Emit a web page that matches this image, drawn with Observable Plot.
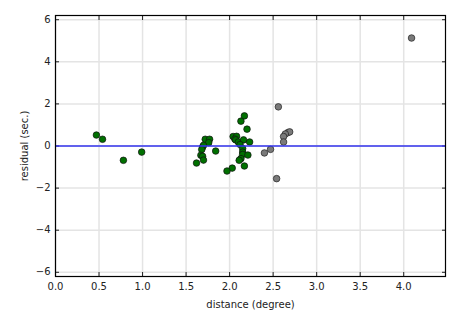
<!DOCTYPE html>
<html>
<head>
<meta charset="utf-8">
<script src="https://cdn.jsdelivr.net/npm/d3@7"></script>
<script src="https://cdn.jsdelivr.net/npm/@observablehq/plot@0.6"></script>
<style>
  html, body { margin: 0; padding: 0; background: #fff; }
  #chart svg { display: block; }
</style>
</head>
<body>
<div id="chart"></div>
<script>
// Residuals vs distance
const greenX = [0.47, 0.54, 0.78, 0.99, 1.72, 1.77, 1.76, 1.69, 1.70, 1.68, 1.67, 1.69, 1.70, 1.62, 1.84,
                2.17, 2.13, 2.20, 2.04, 2.08, 2.06, 2.07, 2.10, 2.16, 2.23, 2.12, 2.15, 2.15, 2.15, 2.13, 2.11, 2.21, 2.03, 1.97, 2.17];
const greenY = [0.52, 0.32, -0.68, -0.29, 0.32, 0.32, 0.16, -0.05, 0.03, -0.17, -0.44, -0.49, -0.67, -0.81, -0.24,
                1.43, 1.18, 0.80, 0.45, 0.46, 0.33, 0.29, 0.19, 0.29, 0.19, 0.07, -0.12, -0.29, -0.40, -0.60, -0.68, -0.43, -1.05, -1.19, -0.95];
const grayX = [2.56, 2.67, 2.69, 2.64, 2.62, 2.62, 2.47, 2.40, 2.54, 4.09];
const grayY = [1.86, 0.64, 0.67, 0.57, 0.45, 0.19, -0.16, -0.33, -1.55, 5.13];
const xTicks = [0, 0.5, 1, 1.5, 2, 2.5, 3, 3.5, 4];
const yTicks = [-6, -4, -2, 0, 2, 4, 6];
const xDomain = [0, 4.48];
const yDomain = [-6.2, 6.2];

const green = greenX.map((x, i) => ({x, y: greenY[i]}));
const gray = grayX.map((x, i) => ({x, y: grayY[i]}));

const chart = Plot.plot({
  width: 465,
  height: 315,
  marginLeft: 55,
  marginRight: 20,
  marginTop: 15,
  marginBottom: 39,
  style: {fontFamily: "DejaVu Sans", fontSize: "10px", color: "#222", background: "#fff"},
  x: {domain: xDomain},
  y: {domain: yDomain},
  marks: [
    Plot.gridX(xTicks, {stroke: "#e4e4e4", strokeOpacity: 1, strokeWidth: 1.5}),
    Plot.gridY(yTicks, {stroke: "#e4e4e4", strokeOpacity: 1, strokeWidth: 1.5}),
    Plot.axisX(xTicks, {anchor: "bottom", tickSize: -4, tickPadding: 10, tickFormat: d3.format(".1f"),
      label: "distance (degree)", labelAnchor: "center", labelArrow: "none", labelOffset: 31}),
    Plot.axisX(xTicks, {anchor: "top", tickSize: -4, text: null, label: null}),
    Plot.axisY(yTicks, {anchor: "left", tickSize: -4, tickPadding: 9,
      label: "residual (sec.)", labelAnchor: "center", labelArrow: "none", labelOffset: 35}),
    Plot.axisY(yTicks, {anchor: "right", tickSize: -4, text: null, label: null}),
    Plot.dot(green, {x: "x", y: "y", r: 3.3, fill: "#007000", stroke: "#111", strokeWidth: 0.7}),
    Plot.dot(gray, {x: "x", y: "y", r: 3.3, fill: "#7a7a7a", stroke: "#222", strokeWidth: 0.7}),
    Plot.ruleY([0], {stroke: "#3333ee", strokeWidth: 1.6}),
    Plot.frame({stroke: "#000", strokeWidth: 1.2})
  ]
});
document.getElementById("chart").appendChild(chart);
</script>
</body>
</html>
